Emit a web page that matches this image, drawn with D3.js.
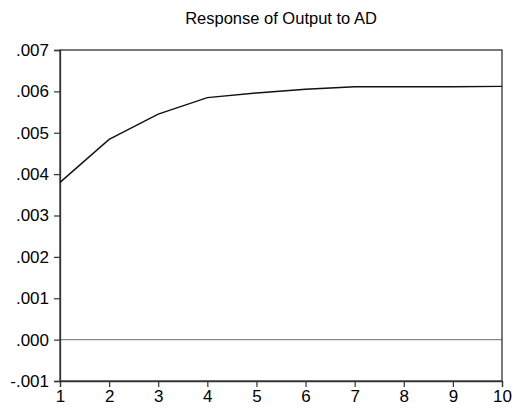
<!DOCTYPE html>
<html>
<head>
<meta charset="utf-8">
<script src="https://cdn.jsdelivr.net/npm/d3@7"></script>
<style>
  html, body { margin: 0; padding: 0; background: #fff; }
  svg { display: block; }
  text { font-family: "Liberation Sans", Arial, sans-serif; fill: #000; }
</style>
</head>
<body>
<script>
const title = "Response of Output to AD";
const periods = [1, 2, 3, 4, 5, 6, 7, 8, 9, 10];
const response = [0.0038, 0.00484, 0.00545, 0.00585, 0.00596, 0.00605, 0.00611, 0.00611, 0.00611, 0.00612];
const yTicks = [-0.001, 0, 0.001, 0.002, 0.003, 0.004, 0.005, 0.006, 0.007];
const yTickLabels = ["-.001", ".000", ".001", ".002", ".003", ".004", ".005", ".006", ".007"];

const W = 513, H = 414;
const m = { left: 60, right: 11, top: 50, bottom: 33 };

const svg = d3.select("body").append("svg").attr("width", W).attr("height", H);

const x = d3.scaleLinear().domain([1, 10]).range([m.left, W - m.right]);
const y = d3.scaleLinear().domain([-0.001, 0.007]).range([H - m.bottom, m.top]);

// zero line
svg.append("line")
  .attr("x1", x(1)).attr("x2", x(10))
  .attr("y1", y(0)).attr("y2", y(0))
  .attr("stroke", "#8a8a8a").attr("stroke-width", 1.2);

// frame
svg.append("rect")
  .attr("x", x(1)).attr("y", y(0.007))
  .attr("width", x(10) - x(1)).attr("height", y(-0.001) - y(0.007))
  .attr("fill", "none").attr("stroke", "#333").attr("stroke-width", 1.3);

// y axis
const yAxis = d3.axisLeft(y).tickValues(yTicks)
  .tickFormat((d, i) => yTickLabels[i]).tickSize(6).tickPadding(5);
const gy = svg.append("g").attr("transform", `translate(${x(1)},0)`).call(yAxis);
gy.select(".domain").attr("stroke", "#333").attr("stroke-width", 1.3);
gy.selectAll(".tick line").attr("stroke", "#333").attr("stroke-width", 1.2);
gy.selectAll("text").style("font-size", "17px").attr("fill", "#000");

// x axis
const xAxis = d3.axisBottom(x).tickValues(periods).tickFormat(d3.format("d"))
  .tickSize(6).tickPadding(3);
const gx = svg.append("g").attr("transform", `translate(0,${y(-0.001)})`).call(xAxis);
gx.select(".domain").attr("stroke", "#333").attr("stroke-width", 1.3);
gx.selectAll(".tick line").attr("stroke", "#333").attr("stroke-width", 1.2);
gx.selectAll("text").style("font-size", "17px").attr("fill", "#000");

// response line
const line = d3.line().x((d, i) => x(periods[i])).y(d => y(d));
svg.append("path").datum(response)
  .attr("d", line)
  .attr("fill", "none").attr("stroke", "#111").attr("stroke-width", 1.4);

// title
svg.append("text")
  .attr("x", (x(1) + x(10)) / 2).attr("y", 24)
  .attr("text-anchor", "middle")
  .style("font-size", "16.5px")
  .text(title);
</script>
</body>
</html>
